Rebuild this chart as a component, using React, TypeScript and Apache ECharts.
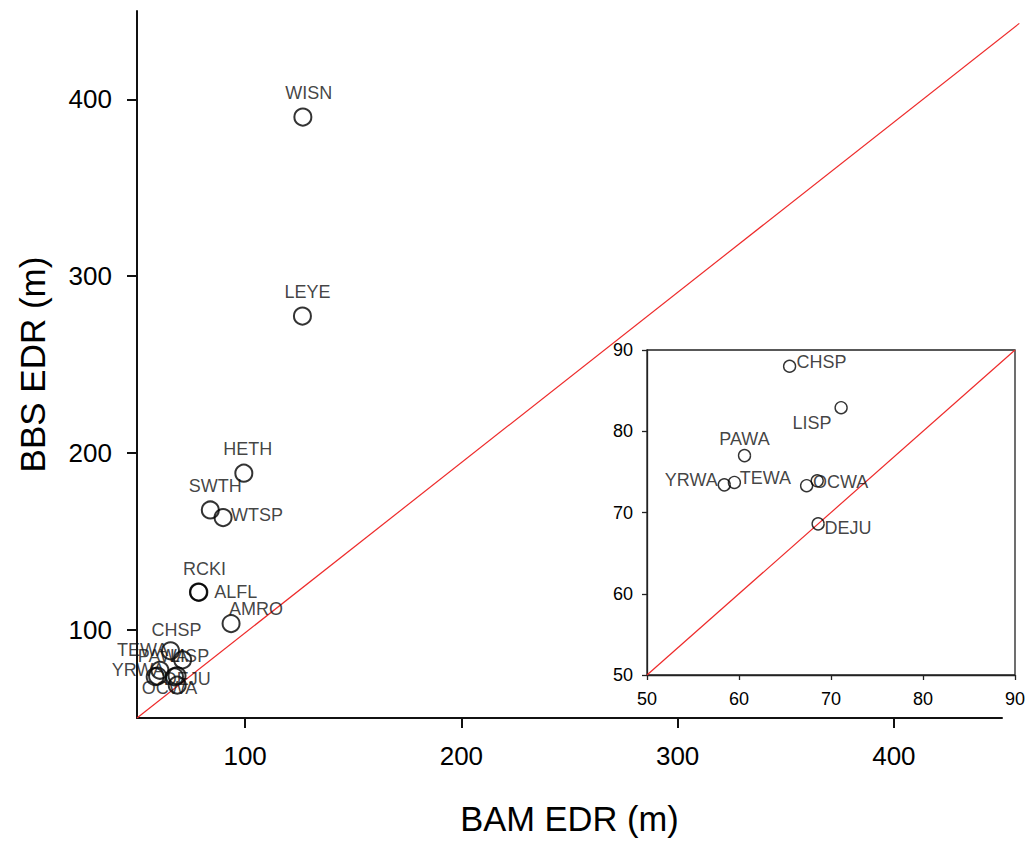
import React, { useEffect, useRef } from "react";
import * as echarts from "echarts";

// Main plot data (BAM EDR vs BBS EDR, metres)
const mainNames = ["WISN", "LEYE", "HETH", "SWTH", "WTSP", "RCKI", "ALFL", "AMRO", "CHSP", "LISP", "PAWA", "TEWA", "YRWA", "OCWA", "DEJU", "X"];
const mainBam = [126.7, 126.5, 99.4, 83.9, 89.8, 78.4, 78.6, 93.5, 65.5, 71.1, 60.6, 59.5, 58.4, 67.35, 68.6, 68.5];
const mainBbs = [390.0, 277.4, 188.5, 167.7, 163.4, 121.3, 121.1, 103.4, 88.0, 82.9, 77.0, 73.7, 73.4, 73.3, 68.6, 73.9];

// Inset (zoom of the 50-90 m cluster)
const insetNames = ["CHSP", "LISP", "PAWA", "YRWA", "TEWA", "OCWA", "DEJU", "X"];
const insetBam = [65.5, 71.1, 60.6, 58.4, 59.5, 67.35, 68.6, 68.5];
const insetBbs = [88.0, 82.9, 77.0, 73.4, 73.7, 73.3, 68.6, 73.9];

// 1:1 reference lines
const mainRefLine = [[50, 50], [458, 443]];
const insetRefLine = [[50, 50], [90, 90]];

const mainTicks = [100, 200, 300, 400];

// label offsets (style only)
const mainLabelOffset: Record<string, number[]> = {
  WISN: [6, -24], LEYE: [5, -24], HETH: [4, -24], SWTH: [5, -24], WTSP: [34, -3],
  RCKI: [6, -23], ALFL: [37, 0], AMRO: [25, -15], CHSP: [6, -21], LISP: [7, -4],
  PAWA: [3, -14], TEWA: [-15, -26], YRWA: [-17, -7], OCWA: [-5, 11], DEJU: [10, -6],
};
const insetLabelOffset: Record<string, number[]> = {
  CHSP: [32, -4], LISP: [-29, 15], PAWA: [0, -17], YRWA: [-33, -5], TEWA: [31, -4],
  OCWA: [34, -4], DEJU: [30, 4],
};

const FONT = "Liberation Sans, Arial, sans-serif";
const INK = "#000";

export default function App() {
  const ref = useRef<HTMLDivElement>(null);
  useEffect(() => {
    if (!ref.current) return;
    const chart = echarts.init(ref.current, null, { renderer: "svg" });
    const mkPoints = (names: string[], xs: number[], ys: number[], offs: Record<string, number[]>, fs: number) =>
      names.map((n, i) => ({
        name: n,
        value: [xs[i], ys[i]],
        label: offs[n]
          ? { show: true, position: "inside", offset: offs[n], formatter: n, fontSize: fs, color: "#111", fontFamily: FONT }
          : { show: false },
      }));

    const mainLeft = 137, mainRight = 27;
    const pxPerUnit = (1029 - mainLeft - mainRight) / 400;
    const refMax = mainRefLine[1][0];

    chart.setOption({
      animation: false,
      backgroundColor: "#fff",
      grid: [
        { left: mainLeft, top: 11, right: mainRight, bottom: 124, containLabel: false },
        { left: 647, top: 350, right: 14, bottom: 167, show: true, borderColor: "#222", borderWidth: 1.3, backgroundColor: "#fff", z: 5 },
        // hidden grid that extends the main scale beyond the axis end for the reference line
        { left: mainLeft, top: 11, right: mainRight - (refMax - 450) * pxPerUnit, bottom: 124, containLabel: false },
      ],
      xAxis: [
        {
          gridIndex: 0, type: "value", min: 50, max: 450,
          name: "BAM EDR (m)", nameLocation: "middle", nameGap: 83,
          nameTextStyle: { fontSize: 34.5, color: INK, fontFamily: FONT },
          axisLine: { show: true, lineStyle: { color: "#111", width: 2 } },
          axisTick: { show: true, inside: false, length: 10, lineStyle: { color: "#111", width: 2 }, customValues: mainTicks },
          axisLabel: { fontSize: 26, color: INK, margin: 25, fontFamily: FONT, customValues: mainTicks },
          splitLine: { show: false },
        },
        {
          gridIndex: 1, type: "value", min: 50, max: 90, interval: 10, z: 6,
          axisLine: { show: true, lineStyle: { color: "#222", width: 1.3 } },
          axisTick: { show: true, inside: false, length: 5, lineStyle: { color: "#222", width: 1.3 } },
          axisLabel: { fontSize: 18, color: INK, margin: 15, fontFamily: FONT },
          splitLine: { show: false },
        },
        { gridIndex: 2, type: "value", min: 50, max: refMax, show: false },
      ],
      yAxis: [
        {
          gridIndex: 0, type: "value", min: 50, max: 450,
          name: "BBS EDR (m)", nameLocation: "middle", nameGap: 87,
          nameTextStyle: { fontSize: 35, color: INK, fontFamily: FONT },
          axisLine: { show: true, lineStyle: { color: "#111", width: 2 } },
          axisTick: { show: true, inside: false, length: 10, lineStyle: { color: "#111", width: 2 }, customValues: mainTicks },
          axisLabel: { fontSize: 26, color: INK, margin: 25, fontFamily: FONT, customValues: mainTicks },
          splitLine: { show: false },
        },
        {
          gridIndex: 1, type: "value", min: 50, max: 90, interval: 10, z: 6,
          axisLine: { show: true, lineStyle: { color: "#222", width: 1.3 } },
          axisTick: { show: true, inside: false, length: 5, lineStyle: { color: "#222", width: 1.3 } },
          axisLabel: { fontSize: 18, color: INK, margin: 14, fontFamily: FONT },
          splitLine: { show: false },
        },
        { gridIndex: 2, type: "value", min: 50, max: 450, show: false },
      ],
      series: [
        {
          type: "line", xAxisIndex: 2, yAxisIndex: 2, data: mainRefLine, symbol: "none",
          lineStyle: { color: "#ee2a2a", width: 1.2 }, silent: true, z: 1,
        },
        {
          type: "scatter", xAxisIndex: 0, yAxisIndex: 0, symbol: "circle", symbolSize: 17,
          data: mkPoints(mainNames, mainBam, mainBbs, mainLabelOffset, 18),
          itemStyle: { color: "rgba(0,0,0,0)", borderColor: "#000", borderWidth: 2 },
          z: 2,
        },
        {
          type: "line", xAxisIndex: 1, yAxisIndex: 1, data: insetRefLine, symbol: "none",
          lineStyle: { color: "#ee2a2a", width: 1.2 }, silent: true, z: 7,
        },
        {
          type: "scatter", xAxisIndex: 1, yAxisIndex: 1, symbol: "circle", symbolSize: 12,
          data: mkPoints(insetNames, insetBam, insetBbs, insetLabelOffset, 18),
          itemStyle: { color: "rgba(0,0,0,0)", borderColor: "#000", borderWidth: 1.4 },
          z: 8,
        },
      ],
    });
    return () => chart.dispose();
  }, []);
  return <div ref={ref} style={{ position: "absolute", left: 0, top: 0, width: 1029, height: 842 }} />;
}
